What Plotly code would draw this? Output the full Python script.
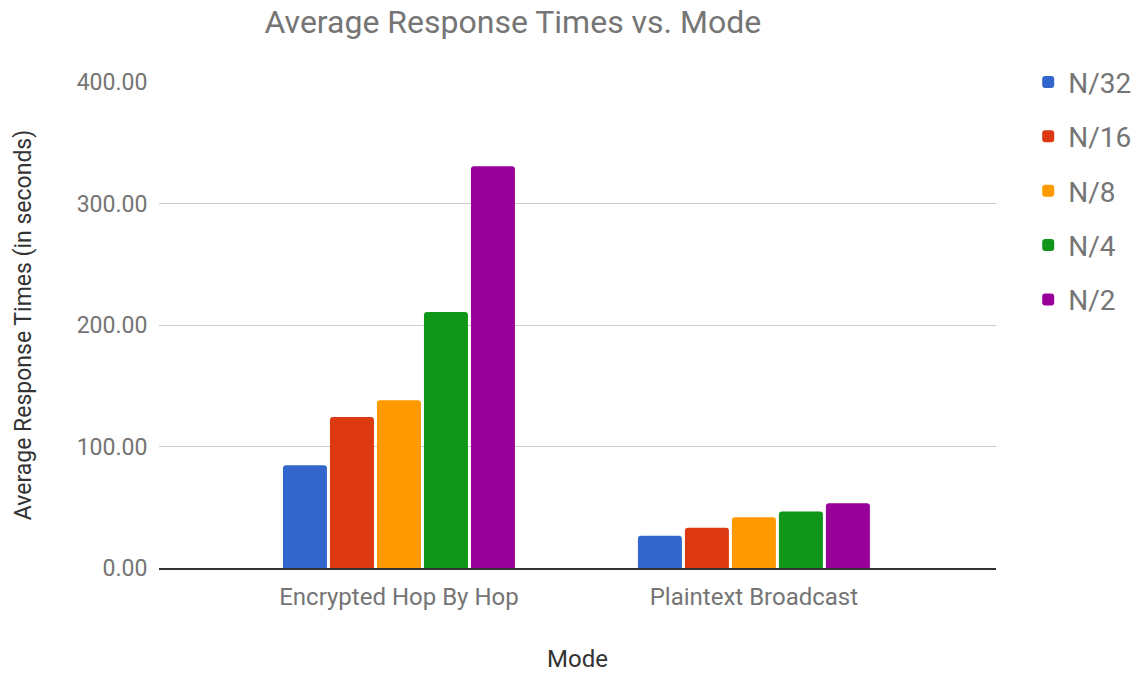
import plotly.graph_objects as go

modes = ["Encrypted Hop By Hop", "Plaintext Broadcast"]
series_names = ["N/32", "N/16", "N/8", "N/4", "N/2"]
series_values = [
    [84.6, 26.6],
    [124.3, 33.2],
    [138.0, 41.7],
    [210.6, 46.6],
    [330.6, 53.2],
]
colors = ["#3366cc", "#dc3912", "#ff9900", "#109618", "#990099"]
y_ticks = [0, 100, 200, 300, 400]

FONT = "Roboto"
fig = go.Figure()
for name, vals, col in zip(series_names, series_values, colors):
    fig.add_trace(go.Bar(
        x=[0, 1], y=vals, name=name, legendgroup=name,
        marker=dict(color=col, line=dict(width=0)),
    ))

fig.update_layout(
    width=1145, height=673,
    margin=dict(l=159, r=149, t=82, b=105),
    paper_bgcolor="white", plot_bgcolor="white",
    font=dict(family=FONT, color="#757575", size=23),
    title=dict(text="Average Response Times vs. Mode", x=0.231, xanchor="left",
               y=0.967, yanchor="middle", font=dict(size=32, color="#757575")),
    barmode="group", bargap=0.338, bargroupgap=0.064, barcornerradius=3,
    legend=dict(xref="container", yref="container", x=0.898, xanchor="left",
                y=0.915, yanchor="top",
                traceorder="grouped", tracegroupgap=15,
                font=dict(size=28, color="#757575"), itemwidth=30),
    xaxis=dict(
        tickmode="array", tickvals=[0, 1], ticktext=modes,
        range=[-0.676, 1.682], showgrid=False, zeroline=False,
        showline=True, linecolor="#333333", linewidth=1.5,
        ticks="outside", ticklen=6, tickcolor="rgba(0,0,0,0)",
        tickfont=dict(size=24), automargin=False,
        title=dict(text="Mode", font=dict(size=24, color="#333333"), standoff=52),
    ),
    yaxis=dict(
        range=[0, 400], tickvals=y_ticks, tickformat=".2f",
        showgrid=True, gridcolor="#cccccc", gridwidth=1.2, zeroline=False,
        ticks="outside", ticklen=6, tickcolor="rgba(0,0,0,0)",
        tickfont=dict(size=23), automargin=True,
        title=dict(text="Average Response Times (in seconds)",
                   font=dict(size=23, color="#333333"), standoff=38),
    ),
)

fig.write_html("out.html")
